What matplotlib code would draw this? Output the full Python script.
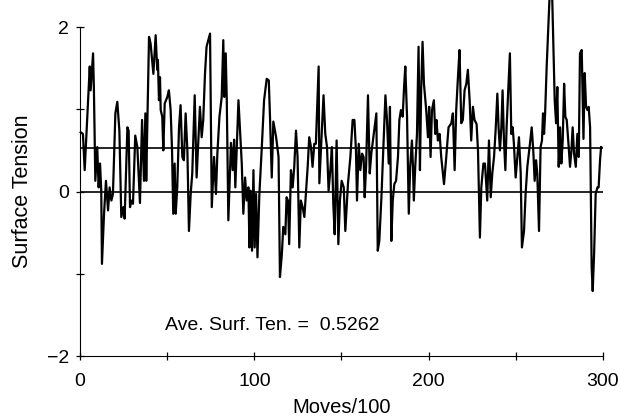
import numpy as np
from matplotlib import pyplot as plt

plt.rcParams['font.family'] = ['Liberation Sans', 'DejaVu Sans']

# values
moves = [0.4, 1.7, 2.7, 5.6, 6.1, 6.9, 7.5, 8.0, 8.8, 9.9, 10.7, 11.5, 12.2, 12.6, 13.8,
         14.9, 16.1, 17.0, 18.0, 18.9, 20.3, 21.4, 22.6, 23.7, 24.9, 25.6, 27.2, 27.9, 28.7,
         29.4, 30.4, 31.7, 32.9, 34.4, 35.6, 36.7, 37.5, 38.0,
         39.6, 40.5, 42.1, 43.4, 44.3, 44.7, 45.3, 45.9, 46.3, 47.2, 47.8, 48.6, 50.1, 51.0,
         52.0, 52.8, 53.5, 54.3, 54.9, 55.8, 56.8, 57.7, 58.7, 59.6, 60.6, 61.6, 62.5, 63.5,
         64.4, 65.8, 66.9, 67.9, 68.8, 69.8, 70.7, 71.7, 72.6, 73.6,
         74.6, 75.6, 76.9, 78.0, 78.8, 80.0, 81.3, 82.2, 82.8, 83.6, 84.2, 85.1, 86.1, 86.6,
         87.6, 88.4, 89.1, 90.9, 91.8, 92.8, 93.7, 94.7, 95.6, 96.6, 97.2, 97.9, 98.7, 99.5,
         100.2, 101.0, 101.8, 102.9, 104.2, 105.6, 107.1, 108.3, 109.0, 110.0, 110.9, 112.5,
         113.9, 114.7, 115.8, 116.6, 117.8, 118.5, 119.3, 120.0, 121.0, 122.0, 122.9, 123.9,
         124.8, 125.8, 126.7, 127.7, 128.7, 129.6, 130.6, 131.5, 132.5, 133.4, 134.4, 135.3,
         136.3, 136.9, 137.3, 138.8, 139.7, 140.7, 141.7, 142.6, 143.6, 144.5, 145.3, 146.1,
         147.2, 148.2, 149.1, 150.1, 151.3, 152.2, 153.7, 155.1, 156.4, 157.4, 158.3, 158.9,
         159.9, 160.8, 161.8, 162.7, 163.3, 164.1, 165.2, 166.2, 167.1, 168.5, 170.0, 170.8,
         171.7, 172.9, 174.2, 175.2, 176.1, 177.1, 177.8, 178.6, 179.4, 180.3, 181.3, 182.4,
         183.2, 184.1, 185.1, 185.9, 186.6, 187.6, 188.6, 189.4, 190.4, 191.0, 191.5, 192.3,
         193.3, 194.2, 195.0, 195.7, 196.5, 197.3, 198.6, 199.6, 200.3, 201.1, 201.9, 203.0,
         203.8, 204.5, 205.3, 206.3, 207.2, 208.8, 210.1, 211.4, 213.0, 213.9, 214.9, 215.8,
         216.8, 217.7, 218.7, 219.6, 220.6, 221.6, 222.5, 223.5, 224.4, 225.4, 226.3, 227.5,
         228.3, 229.4, 230.2, 231.4, 232.3, 233.1, 233.6, 234.6, 235.6, 236.5, 237.5, 238.4,
         239.4, 240.1, 240.9, 241.7, 242.4, 243.2, 244.0, 244.7, 245.7, 246.6, 247.4, 248.2,
         248.9, 249.9, 250.9, 251.8, 252.8, 253.5, 254.7, 255.6, 256.6, 258.1, 259.1, 260.0,
         260.8, 261.6, 262.3, 263.3, 264.2, 265.0, 265.6, 266.2, 266.8, 267.7, 269.8, 270.6,
         272.3, 273.1, 273.8, 274.6, 275.4, 276.1, 276.9, 277.7, 278.4, 279.2, 280.2, 281.1,
         281.9, 282.6, 283.4, 284.4, 285.3, 286.1, 286.8, 287.8, 288.8, 289.5, 290.3, 291.1,
         291.8, 292.6, 293.5, 294.1, 294.9, 295.8, 296.8, 297.5, 298.3, 298.9]
tension = [0.72, 0.70, 0.26, 1.52, 1.23, 1.48, 1.68, 1.23, 0.13, 0.54, 0.05, 0.34, 0.01, -0.88, -0.27,
           0.13, -0.23, 0.05, -0.11, -0.03, 0.95, 1.09, 0.74, -0.31, -0.19, -0.33, 0.78, 0.74, -0.19,
           -0.11, -0.15, 0.68, 0.54, -0.14, 0.87, 0.13, 0.95, 0.13,
           1.88, 1.80, 1.43, 1.90, 1.48, 1.60, 1.11, 1.39, 0.99, 0.91, 0.50, 1.07, 1.15, 1.23,
           0.99, 0.50, -0.27, 0.34, -0.27, 0.05, 0.78, 1.05, 0.42, 0.38, 0.95, 0.50, -0.48, -0.03,
           0.22, 1.17, 0.17, 0.62, 1.03, 0.66, 0.87, 1.43, 1.76, 1.84,
           1.92, -0.19, 0.42, -0.03, 0.46, 0.91, 1.15, 1.84, 1.15, 1.68, 1.11, -0.35, 0.30, 0.59,
           0.26, 0.63, 0.05, 1.11, 0.74, 0.34, -0.27, 0.17, -0.11, 0.05, -0.68, 0.01, -0.72, 0.26,
           -0.68, -0.03, -0.80, -0.03, 0.50, 1.11, 1.37, 1.35, 0.90, 0.17, 0.85, 0.66,
           0.42, -1.04, -0.76, -0.43, -0.52, -0.07, -0.11, -0.64, 0.26, 0.05, 0.30, 0.74,
           0.42, -0.68, -0.11, -0.19, -0.31, -0.03, 0.30, 0.66, 0.54, 0.30, 0.58, 0.58,
           1.19, 1.52, 0.10, 0.78, 1.17, 0.70, 0.54, 0.01, 0.26, 0.54, -0.15, -0.52,
           0.62, -0.64, -0.11, 0.13, 0.05, -0.48, 0.09, 0.42, 0.87, 0.87, 0.50, -0.11,
           0.58, 0.26, 0.46, 0.42, -0.07, 0.30, 1.17, 0.22, 0.46, 0.70, 0.95, -0.72,
           -0.60, -0.07, 0.62, 1.17, 0.87, 0.34, 1.03, -0.60, -0.11, 0.09, 0.13, 0.42,
           0.87, 0.99, 0.91, 1.27, 1.52, 0.91, -0.27, 0.30, 0.62, 0.30, -0.11, 0.30,
           0.70, 1.76, 0.26, 1.23, 1.82, 1.31, 0.99, 0.66, 1.03, 0.42, 0.99, 1.11,
           0.70, 0.87, 0.62, 0.70, 0.42, 0.09, 0.42, 0.78, 0.83, 0.95, 0.26, 0.99,
           1.39, 1.72, 0.83, 0.87, 1.23, 1.31, 1.48, 1.11, 0.62, 1.03, 0.87, 0.82,
           0.50, -0.56, 0.05, 0.34, 0.34, 0.05, -0.11, 0.62, -0.07, 0.22, 0.42, 0.74,
           1.19, 0.78, 0.50, 0.78, 1.23, 0.62, 0.26, 0.78, 1.27, 1.68, 0.70, 0.78,
           0.58, 0.17, 0.42, 0.66, 0.22, -0.68, -0.48, -0.03, 0.30, 0.58, 0.78, 0.50,
           0.13, 0.38, 0.22, -0.48, 0.54, 0.62, 0.95, 0.70, 0.95, 1.52, 2.6, 2.6,
           1.11, 0.83, 1.27, 0.30, 0.78, 0.34, 0.62, 1.31, 0.91, 0.87, 0.58, 0.30,
           0.50, 0.78, 0.46, 0.30, 0.70, 0.42, 1.68, 1.72, 0.64, 1.44, 1.03, 0.99,
           1.03, 0.78, -0.92, -1.21, -0.76, -0.03, 0.05, 0.05, 0.38, 0.54]
ave_tension = 0.5262


def main():
    fig = plt.figure(figsize=(6.21, 4.18), dpi=100)
    ax = fig.add_axes([0.1288, 0.1483, 0.8422, 0.7871])

    ax.plot(moves, tension, color='black', lw=1.6, clip_on=False)
    ax.hlines([0, ave_tension], 0, 300, colors='black', lw=1.2)

    ax.set_xlim(0, 300)
    ax.set_ylim(-2, 2)
    ax.spines['top'].set_visible(False)
    ax.spines['right'].set_visible(False)
    ax.set_xticks([0, 100, 200, 300])
    ax.set_xticks([50, 150, 250], minor=True)
    ax.set_yticks([-2, -1, 0, 1, 2])
    ax.set_yticklabels(['\u22122', '', '0', '', '2'])
    ax.tick_params(which='both', direction='inout', length=6, width=0.9, labelsize=14)
    ax.tick_params(axis='x', pad=9)
    ax.tick_params(axis='y', pad=5)

    ax.set_xlabel('Moves/100', fontsize=14.5, labelpad=6)
    ax.set_ylabel('Surface Tension', fontsize=15.5, labelpad=10)
    ax.text(48.8, -1.63, 'Ave. Surf. Ten. =  %.4f' % ave_tension, fontsize=14, va='center')

    plt.savefig('out.png', dpi=100)


if __name__ == "__main__":
    main()
